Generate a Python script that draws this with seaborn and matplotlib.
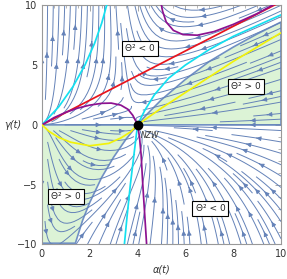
import numpy as np
import pandas as pd
import seaborn as sns
import matplotlib.pyplot as plt
from matplotlib.ticker import MultipleLocator

# field parameters (u = k a (4 - a) - m a g ,  v = g (c - a + b g))
k_par = 0.5
m_par = 0.08
c_par = 3.5
b_par = 0.3

# curves
red_x = [0, 10]
red_y = [0, 10.3]

cyan_left_x = [0, 0.7, 1.3, 1.8, 2.2, 2.5, 2.75]
cyan_left_y = [0, 1.5, 3.2, 5.0, 6.8, 8.5, 10.3]

cyan_right_x = [3.45, 3.57, 3.7, 3.85, 4, 4.3, 4.7, 5.3, 6.0, 7.0, 8.0, 9.0, 10]
cyan_right_y = [-10, -7.5, -5, -2.5, 0, 1.2, 2.5, 3.9, 5.0, 6.3, 7.4, 8.3, 9.2]

purple_low_x = [0, 0.5, 1.0, 1.5, 2.0, 2.5, 2.9, 3.3, 3.6, 3.8, 3.93, 4,
                4.08, 4.15, 4.22, 4.3, 4.38]
purple_low_y = [0, 0.6, 1.05, 1.4, 1.65, 1.8, 1.82, 1.65, 1.3, 0.8, 0.3, 0,
                -1, -2.5, -5, -7.5, -10]

purple_up_x = [4.95, 5.05, 5.2, 5.5, 5.9, 6.5, 7.2, 8.0, 9.0, 10]
purple_up_y = [10.5, 9.5, 8.6, 7.9, 7.55, 7.5, 7.8, 8.4, 9.3, 10.4]

yellow_up_x = [4, 5, 6, 7, 8, 9, 10]
yellow_up_y = [0, 1.4, 2.7, 4.0, 5.3, 6.5, 7.7]

yellow_low_x = [0, 0.3, 0.7, 1.2, 2.0, 2.8, 3.3, 3.7, 4]
yellow_low_y = [0, -0.55, -1.05, -1.45, -1.75, -1.55, -1.1, -0.6, 0]

# theta^2 = 0 boundaries
bound_up_x = [4, 4.4, 5, 6, 7, 8, 9, 10]
bound_up_y = [0, 0.9, 2.1, 3.8, 5.3, 6.5, 7.6, 8.6]
bound_low_x = [4, 3.5, 3, 2.5, 2, 1.7, 1.4]
bound_low_y = [0, -1.25, -2.7, -4.4, -6.5, -8.0, -9.9]

labels = ["Θ² < 0", "Θ² > 0", "Θ² > 0", "Θ² < 0"]
label_x = [4.1, 8.55, 1.0, 7.05]
label_y = [6.4, 3.2, -6.0, -7.0]

sns.set_theme(style="white")
plt.rcParams['font.family'] = ['DejaVu Sans']

fig = plt.figure(figsize=(2.87, 2.79), dpi=100)
ax = fig.add_axes([0.146, 0.124, 0.833, 0.857])

# green regions
ax.fill(bound_up_x + [10, 4], bound_up_y + [0, 0], facecolor='#dcf3d6',
        edgecolor='#7090c4', lw=1.2, zorder=1)
ax.fill(bound_low_x + [0, 0, 4], bound_low_y + [-9.9, 0, 0], facecolor='#dcf3d6',
        edgecolor='#7090c4', lw=1.2, zorder=1)

# stream field
a = np.linspace(0, 10, 120)
g = np.linspace(-10, 10, 160)
A, G = np.meshgrid(a, g)
U = k_par * A * (4 - A) - m_par * A * G
V = G * (c_par - A + b_par * G)
kw = dict(color='#6482b8', linewidth=0.7, density=1.45, arrowsize=0.65,
          maxlength=2.0, zorder=2)
try:
    ax.streamplot(a, g, U, V, num_arrows=3, **kw)
except TypeError:
    ax.streamplot(a, g, U, V, **kw)

curves = [
    (red_x, red_y, '#e8141c'),
    (cyan_left_x, cyan_left_y, '#14e0f0'),
    (cyan_right_x, cyan_right_y, '#14e0f0'),
    (purple_low_x, purple_low_y, '#8c1290'),
    (purple_up_x, purple_up_y, '#8c1290'),
    (yellow_up_x, yellow_up_y, '#f2f20a'),
    (yellow_low_x, yellow_low_y, '#f2f20a'),
]
for cx, cy, col in curves:
    d = pd.DataFrame({'x': cx, 'y': cy})
    sns.lineplot(data=d, x='x', y='y', sort=False, estimator=None, color=col,
                 lw=1.25, ax=ax, zorder=3)

ax.plot([4], [0], 'o', color='black', ms=6, zorder=5)
ax.text(4.15, -0.55, "NZW", fontsize=5.5, style='italic', color='#333333',
        ha='left', va='top', zorder=4)

for t, tx, ty in zip(labels, label_x, label_y):
    ax.text(tx, ty, t, fontsize=6.5, ha='center', va='center', zorder=6,
            bbox=dict(boxstyle='square,pad=0.35', fc='white', ec='black', lw=0.8))

ax.set_xlim(0, 10)
ax.set_ylim(-10, 10)
ax.xaxis.set_major_locator(MultipleLocator(2))
ax.xaxis.set_minor_locator(MultipleLocator(0.5))
ax.yaxis.set_major_locator(MultipleLocator(5))
ax.yaxis.set_minor_locator(MultipleLocator(1))
ax.tick_params(which='both', direction='in', top=True, right=True,
               labelsize=7, colors='#999999', labelcolor='#333333')
ax.tick_params(which='major', length=4, width=0.6)
ax.tick_params(which='minor', length=2, width=0.5)
for s in ax.spines.values():
    s.set_color('#999999')
    s.set_linewidth(0.8)

ax.set_xlabel("α(t)", fontsize=7, color='#333333', style='italic')
ax.set_ylabel("γ(t)", fontsize=7, color='#333333', rotation=0, style='italic',
              labelpad=3, va='center')

fig.savefig("out.png", dpi=100)
